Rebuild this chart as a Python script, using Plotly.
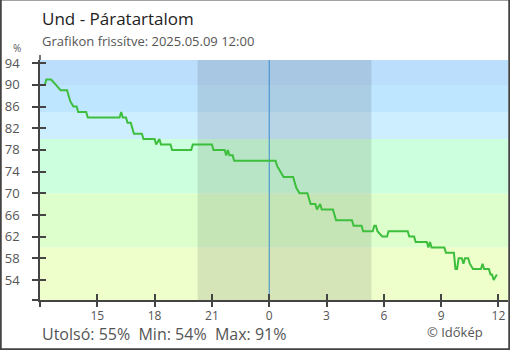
import plotly.graph_objects as go

# Relative humidity readings (local time) for Und
TIMES = [
    "2025-05-08 12:00", "2025-05-08 12:15", "2025-05-08 12:20", "2025-05-08 12:35",
    "2025-05-08 12:50", "2025-05-08 13:05", "2025-05-08 13:25", "2025-05-08 13:30",
    "2025-05-08 13:35", "2025-05-08 13:45", "2025-05-08 13:55", "2025-05-08 14:00",
    "2025-05-08 14:25", "2025-05-08 14:30", "2025-05-08 16:10", "2025-05-08 16:15",
    "2025-05-08 16:20", "2025-05-08 16:30", "2025-05-08 16:35", "2025-05-08 16:45",
    "2025-05-08 16:50", "2025-05-08 16:55", "2025-05-08 17:20", "2025-05-08 17:25",
    "2025-05-08 18:00", "2025-05-08 18:05", "2025-05-08 18:15", "2025-05-08 18:20",
    "2025-05-08 18:50", "2025-05-08 18:55", "2025-05-08 19:55", "2025-05-08 20:00",
    "2025-05-08 21:00", "2025-05-08 21:05", "2025-05-08 21:40", "2025-05-08 21:45",
    "2025-05-08 21:50", "2025-05-08 21:55", "2025-05-08 22:05", "2025-05-08 22:10",
    "2025-05-09 00:20", "2025-05-09 00:25", "2025-05-09 00:35", "2025-05-09 00:45",
    "2025-05-09 01:15", "2025-05-09 01:20", "2025-05-09 01:25", "2025-05-09 01:35",
    "2025-05-09 02:00", "2025-05-09 02:05", "2025-05-09 02:10", "2025-05-09 02:25",
    "2025-05-09 02:30", "2025-05-09 02:40", "2025-05-09 02:45", "2025-05-09 03:20",
    "2025-05-09 03:25", "2025-05-09 03:30", "2025-05-09 04:20", "2025-05-09 04:25",
    "2025-05-09 04:50", "2025-05-09 04:55", "2025-05-09 05:25", "2025-05-09 05:30",
    "2025-05-09 05:35", "2025-05-09 05:40", "2025-05-09 05:55", "2025-05-09 06:10",
    "2025-05-09 06:15", "2025-05-09 07:15", "2025-05-09 07:20", "2025-05-09 07:35",
    "2025-05-09 07:40", "2025-05-09 08:15", "2025-05-09 08:20", "2025-05-09 08:25",
    "2025-05-09 08:30", "2025-05-09 09:10", "2025-05-09 09:15", "2025-05-09 09:40",
    "2025-05-09 09:45", "2025-05-09 09:50", "2025-05-09 09:55", "2025-05-09 10:05",
    "2025-05-09 10:10", "2025-05-09 10:15", "2025-05-09 10:25", "2025-05-09 10:30",
    "2025-05-09 10:40", "2025-05-09 11:05", "2025-05-09 11:10", "2025-05-09 11:15",
    "2025-05-09 11:30", "2025-05-09 11:35", "2025-05-09 11:40", "2025-05-09 11:45",
    "2025-05-09 11:55",
]
HUMIDITY = [
    90, 90, 91, 91,
    90, 89, 89, 88,
    87, 86, 86, 85,
    85, 84, 84, 85,
    84, 84, 83, 83,
    82, 81, 81, 80,
    80, 79, 80, 79,
    79, 78, 78, 79,
    79, 78, 78, 77,
    78, 77, 77, 76,
    76, 75, 74, 73,
    73, 72, 71, 70,
    70, 69, 68, 68,
    67, 68, 67, 67,
    66, 65, 65, 64,
    64, 63, 63, 64,
    64, 63, 62, 62,
    63, 63, 62, 62,
    61, 61, 60, 61,
    60, 60, 59, 59,
    56, 56, 58, 58,
    57, 58, 58, 57,
    56, 56, 57, 56,
    56, 55, 55, 54,
    55,
]

X_RANGE = ["2025-05-08 12:00", "2025-05-09 12:30"]
X_TICK_VALS = ["2025-05-08 12:00", "2025-05-08 15:00", "2025-05-08 18:00", "2025-05-08 21:00",
               "2025-05-09 00:00", "2025-05-09 03:00", "2025-05-09 06:00", "2025-05-09 09:00",
               "2025-05-09 12:00"]
X_TICK_TEXT = ["", "15", "18", "21", "0", "3", "6", "9", "12"]

Y_RANGE = [50.3, 94.6]
Y_TICK_VALS = [Y_RANGE[0], 54, 58, 62, 66, 70, 74, 78, 82, 86, 90, 94]
Y_TICK_TEXT = [""] + [str(v) for v in Y_TICK_VALS[1:]]

# humidity background bands (lower edge, upper edge, colour)
BAND_EDGES = [Y_RANGE[0], 60, 70, 80, 85, 90, Y_RANGE[1]]
BAND_COLORS = ["#eeffcc", "#ddffcc", "#ccffdd", "#cdeeff", "#bfe6ff", "#bbdefd"]

NIGHT = ["2025-05-08 20:15", "2025-05-09 05:21"]
MIDNIGHT = "2025-05-09 00:00"

TITLE = "Und - Páratartalom"
SUBTITLE = "Grafikon frissítve: 2025.05.09 12:00"
LAST, LOW, HIGH = HUMIDITY[-1], min(HUMIDITY), max(HUMIDITY)
FOOTER = f"Utolsó: {LAST}%  Min: {LOW}%  Max: {HIGH}%"
CREDIT = "© Időkép"

W, H = 510, 350
ML, MR, MT, MB = 40, 2, 60, 50
FONT = "Open Sans"
AXIS_COLOR = "#444444"
TEXT_GRAY = "#555555"


def px(x):
    return (x - ML) / (W - ML - MR)


def py(y):
    return (H - MB - y) / (H - MT - MB)


fig = go.Figure()
fig.add_trace(go.Scatter(
    x=TIMES, y=HUMIDITY, mode="lines",
    line=dict(color="#3dbf3d", width=2),
    hoverinfo="skip", showlegend=False,
))
# invisible copy on the overlay axes that carry the outer tick marks
fig.add_trace(go.Scatter(
    x=TIMES, y=HUMIDITY, mode="lines", xaxis="x2", yaxis="y2",
    line=dict(color="rgba(0,0,0,0)", width=0),
    hoverinfo="skip", showlegend=False,
))

shapes = []
for lo, hi, col in zip(BAND_EDGES[:-1], BAND_EDGES[1:], BAND_COLORS):
    shapes.append(dict(type="rect", xref="paper", yref="y", x0=0, x1=1, y0=lo, y1=hi,
                       fillcolor=col, line=dict(width=0), layer="below"))
shapes.append(dict(type="rect", xref="x", yref="y", x0=NIGHT[0], x1=NIGHT[1],
                   y0=Y_RANGE[0], y1=Y_RANGE[1], fillcolor="rgba(0,0,0,0.1)",
                   line=dict(width=0), layer="below"))
shapes.append(dict(type="line", xref="x", yref="y", x0=MIDNIGHT, x1=MIDNIGHT,
                   y0=Y_RANGE[0], y1=Y_RANGE[1], line=dict(color="#3a8ccc", width=1),
                   layer="below"))
# small overshoot of the y axis line above the plot
shapes.append(dict(type="line", xref="paper", yref="paper", x0=0, x1=0,
                   y0=1, y1=py(55), line=dict(color=AXIS_COLOR, width=1.5)))
# outer frame
shapes.append(dict(type="rect", xref="paper", yref="paper",
                   x0=px(0.75), x1=px(W - 0.75), y0=py(H - 0.75), y1=py(-0.5),
                   line=dict(color=AXIS_COLOR, width=2), fillcolor="rgba(0,0,0,0)"))

axis_common = dict(showgrid=False, zeroline=False, ticklen=6, tickwidth=1.5,
                   tickcolor=AXIS_COLOR)

fig.update_layout(
    width=W, height=H,
    margin=dict(l=ML, r=MR, t=MT, b=MB),
    paper_bgcolor="white", plot_bgcolor="white",
    font=dict(family=FONT, color=TEXT_GRAY),
    shapes=shapes,
    # primary axes: inner half of each x tick plus the labels
    xaxis=dict(type="date", range=X_RANGE, tickvals=X_TICK_VALS, ticktext=X_TICK_TEXT,
               ticks="inside", showline=True, linecolor=AXIS_COLOR, linewidth=1.5,
               tickfont=dict(size=12, color=TEXT_GRAY), ticklabelstandoff=4,
               **axis_common),
    yaxis=dict(range=Y_RANGE, tickvals=Y_TICK_VALS, ticktext=Y_TICK_TEXT,
               ticks="outside", showline=True, linecolor=AXIS_COLOR, linewidth=1.5,
               tickfont=dict(size=13, color=TEXT_GRAY), ticklabelstandoff=10,
               **axis_common),
    # overlay axes: the other half of each tick
    xaxis2=dict(type="date", overlaying="x", matches="x", anchor="y", side="bottom",
                tickvals=X_TICK_VALS, ticks="outside", showticklabels=False,
                showline=False, **axis_common),
    yaxis2=dict(overlaying="y", matches="y", anchor="x", side="left",
                tickvals=Y_TICK_VALS, ticks="inside", showticklabels=False,
                showline=False, **axis_common),
    annotations=[
        dict(text=TITLE, xref="paper", yref="paper", x=px(40), y=py(19),
             xanchor="left", yanchor="middle", showarrow=False,
             font=dict(size=17, color="#222222")),
        dict(text=SUBTITLE, xref="paper", yref="paper", x=px(40), y=py(41),
             xanchor="left", yanchor="middle", showarrow=False,
             font=dict(size=13, color=TEXT_GRAY)),
        dict(text="%", xref="paper", yref="paper", x=px(16.5), y=py(48),
             xanchor="center", yanchor="middle", showarrow=False,
             font=dict(size=10, color=TEXT_GRAY)),
        dict(text=FOOTER, xref="paper", yref="paper", x=px(40), y=py(334),
             xanchor="left", yanchor="middle", showarrow=False,
             font=dict(size=16, color=TEXT_GRAY)),
        dict(text=CREDIT, xref="paper", yref="paper", x=px(425), y=py(332),
             xanchor="left", yanchor="middle", showarrow=False,
             font=dict(size=13, color=TEXT_GRAY)),
    ],
)

fig.write_html("out.html")
